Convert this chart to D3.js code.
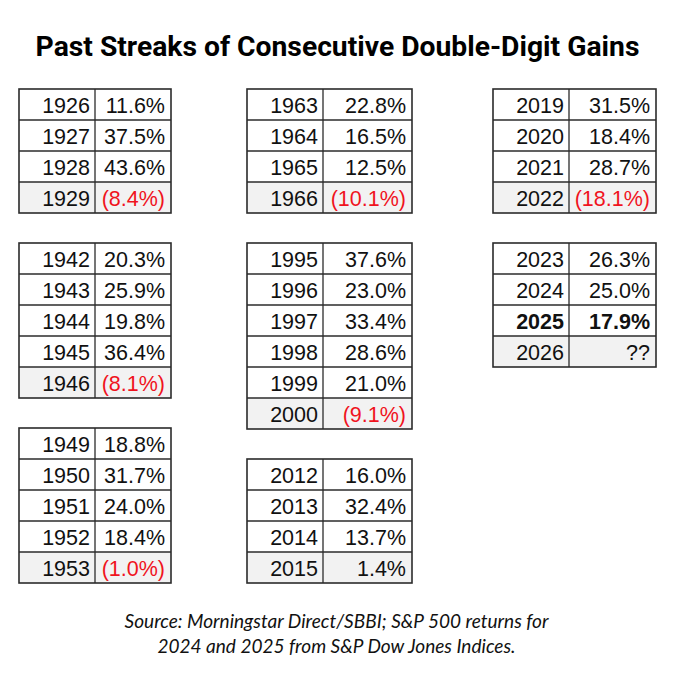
<!DOCTYPE html>
<html>
<head>
<meta charset="utf-8">
<script src="https://cdn.jsdelivr.net/npm/d3@7/dist/d3.min.js"></script>
<style>
  html, body { margin: 0; padding: 0; background: #fff; }
  svg { display: block; }
</style>
</head>
<body>
<div id="chart"></div>
<script>
// Past streaks: first year and annual returns (%); last row is the year the streak ended
var streak1926 = [11.6, 37.5, 43.6, -8.4];
var streak1942 = [20.3, 25.9, 19.8, 36.4, -8.1];
var streak1949 = [18.8, 31.7, 24.0, 18.4, -1.0];
var streak1963 = [22.8, 16.5, 12.5, -10.1];
var streak1995 = [37.6, 23.0, 33.4, 28.6, 21.0, -9.1];
var streak2012 = [16.0, 32.4, 13.7, 1.4];
var streak2019 = [31.5, 18.4, 28.7, -18.1];
var streak2023 = [26.3, 25.0, 17.9, null];

var startYears = [1926, 1942, 1949, 1963, 1995, 2012, 2019, 2023];
var highlightYear = 2025;

var titleText = 'Past Streaks of Consecutive Double-Digit Gains';
var sourceLines = ['Source: Morningstar Direct/SBBI; S&P 500 returns for',
                   '2024 and 2025 from S&P Dow Jones Indices.'];

var W = 673, H = 680;
var rowH = 31;

// table layout: column of the page and top edge
var columns = [
  { x: 19,  yearW: 76, valW: 76 },
  { x: 247, yearW: 76, valW: 89 },
  { x: 493, yearW: 76, valW: 87 }
];
var placement = [
  { col: 0, top: 89 }, { col: 0, top: 243 }, { col: 0, top: 428 },
  { col: 1, top: 89 }, { col: 1, top: 243 }, { col: 1, top: 459 },
  { col: 2, top: 89 }, { col: 2, top: 243 }
];
var allStreaks = [streak1926, streak1942, streak1949, streak1963,
                  streak1995, streak2012, streak2019, streak2023];

var svg = d3.select('#chart').append('svg')
  .attr('width', W)
  .attr('height', H);

// scale a text's font so it spans the wanted width
function fitWidth(sel, target, base) {
  var w = sel.node().getComputedTextLength();
  sel.style('font-size', (base * target / w).toFixed(2) + 'px');
}

var title = svg.append('text')
  .attr('x', W / 2 + 1)
  .attr('y', 56)
  .attr('text-anchor', 'middle')
  .style('font-family', 'Roboto, "Liberation Sans", sans-serif')
  .style('font-weight', 'bold')
  .style('font-size', '24px')
  .style('fill', '#000')
  .text(titleText);
fitWidth(title, 604, 24);

function fmt(v) {
  if (v == null) return '??';
  if (v < 0) return '(' + Math.abs(v).toFixed(1) + '%)';
  return v.toFixed(1) + '%';
}

allStreaks.forEach(function(values, i) {
  var c = columns[placement[i].col];
  var top = placement[i].top;
  var n = values.length;
  var rows = values.map(function(v, k) {
    return { year: startYears[i] + k, value: v, last: k === n - 1 };
  });

  var y = d3.scaleLinear().domain([0, n]).range([top, top + n * rowH]);
  var x0 = c.x, x1 = c.x + c.yearW, x2 = c.x + c.yearW + c.valW;

  var g = svg.append('g');

  // end-of-streak row shading
  g.selectAll('rect.bg').data(rows.filter(function(r) { return r.last; }))
    .enter().append('rect')
    .attr('x', x0)
    .attr('y', function(r) { return y(r.year - startYears[i]); })
    .attr('width', x2 - x0)
    .attr('height', rowH)
    .attr('fill', '#f2f2f2');

  // inner row lines
  g.selectAll('line.row').data(d3.range(1, n))
    .enter().append('line')
    .attr('x1', x0).attr('x2', x2)
    .attr('y1', function(k) { return y(k); })
    .attr('y2', function(k) { return y(k); })
    .attr('stroke', '#2b2b2b')
    .attr('stroke-width', 1.3);

  // column divider
  g.append('line')
    .attr('x1', x1).attr('x2', x1)
    .attr('y1', y(0)).attr('y2', y(n))
    .attr('stroke', '#2b2b2b')
    .attr('stroke-width', 1.3);

  // outer border
  g.append('rect')
    .attr('x', x0).attr('y', y(0))
    .attr('width', x2 - x0).attr('height', y(n) - y(0))
    .attr('fill', 'none')
    .attr('stroke', '#2b2b2b')
    .attr('stroke-width', 1.6);

  var cells = g.selectAll('g.cell').data(rows).enter().append('g')
    .style('font-family', '"Liberation Sans", Arial, sans-serif')
    .style('font-size', '21.5px')
    .style('font-weight', function(r) { return r.year === highlightYear ? 'bold' : 'normal'; });

  cells.append('text')
    .attr('x', x1 - 5)
    .attr('y', function(r) { return y(r.year - startYears[i]) + rowH / 2 + 8; })
    .attr('text-anchor', 'end')
    .style('fill', '#111')
    .text(function(r) { return r.year; });

  cells.append('text')
    .attr('x', x2 - 6)
    .attr('y', function(r) { return y(r.year - startYears[i]) + rowH / 2 + 8; })
    .attr('text-anchor', 'end')
    .style('fill', function(r) { return r.value != null && r.value < 0 ? '#f0141e' : '#111'; })
    .text(function(r) { return fmt(r.value); });
});

var src = svg.selectAll('text.source').data(sourceLines)
  .enter().append('text')
  .attr('class', 'source')
  .attr('x', W / 2)
  .attr('y', function(d, k) { return 628 + k * 24.5; })
  .attr('text-anchor', 'middle')
  .style('font-family', 'Lato, "Open Sans", sans-serif')
  .style('font-style', 'italic')
  .style('font-size', '16.5px')
  .style('fill', '#111')
  .text(function(d) { return d; });
// first line spans ~424px in the reference; size both lines alike
var srcW = src.nodes()[0].getComputedTextLength();
src.style('font-size', (16.5 * 424 / srcW).toFixed(2) + 'px');
</script>
</body>
</html>
